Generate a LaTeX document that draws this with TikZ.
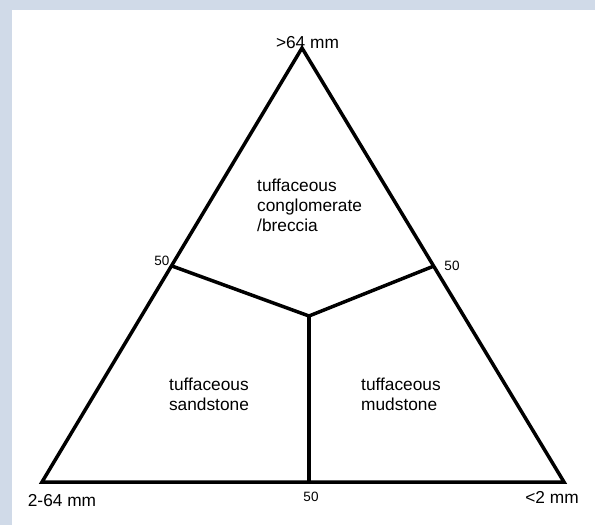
\documentclass[tikz,border=0pt]{standalone}
\usepackage{fontspec}
\setmainfont{Liberation Sans}
\definecolor{frame}{RGB}{208,218,232}
\begin{document}
\begin{tikzpicture}[x=1pt,y=-1pt,
  edge/.style={line width=3.5pt},
  big/.style={font=\fontsize{17.3}{20}\selectfont, inner sep=0pt},
  small/.style={font=\fontsize{13.5}{16}\selectfont, inner sep=0pt},
  pt/.style={inner sep=0pt, minimum size=0pt}]
\useasboundingbox (0,0) rectangle (595,525);
\fill[frame] (0,0) rectangle (595,525);
\fill[white] (12,10) rectangle (595,525);
\coordinate (top) at (302,48);
\coordinate (bl) at (42,482);
\coordinate (br) at (564,482);
\coordinate (ml) at (172,266);
\coordinate (mr) at (434,266);
\coordinate (mb) at (309,482);
\coordinate (c) at (309,316);
\draw[edge, line join=miter] (top) -- (br) -- (bl) -- cycle;
\draw[edge] (ml) -- (c) -- (mr);
\draw[edge] (c) -- (mb);
\node[big] (lt) at (307.5,43) {>64 mm};
\node[big] (lbl) at (62,501) {2-64 mm};
\node[big] (lbr) at (552,497) {<2 mm};
\node[small] (n1) at (162,261) {50};
\node[small] (n2) at (452,266) {50};
\node[small] (n3) at (311,497) {50};
\node[big, anchor=west, align=left] (cg) at (257,205) {tuffaceous\\conglomerate\\/breccia};
\node[big, align=center] (ss) at (209,394) {tuffaceous\\sandstone};
\node[big, anchor=west, align=left] (ms) at (361,394) {tuffaceous\\mudstone};
\end{tikzpicture}
\end{document}
